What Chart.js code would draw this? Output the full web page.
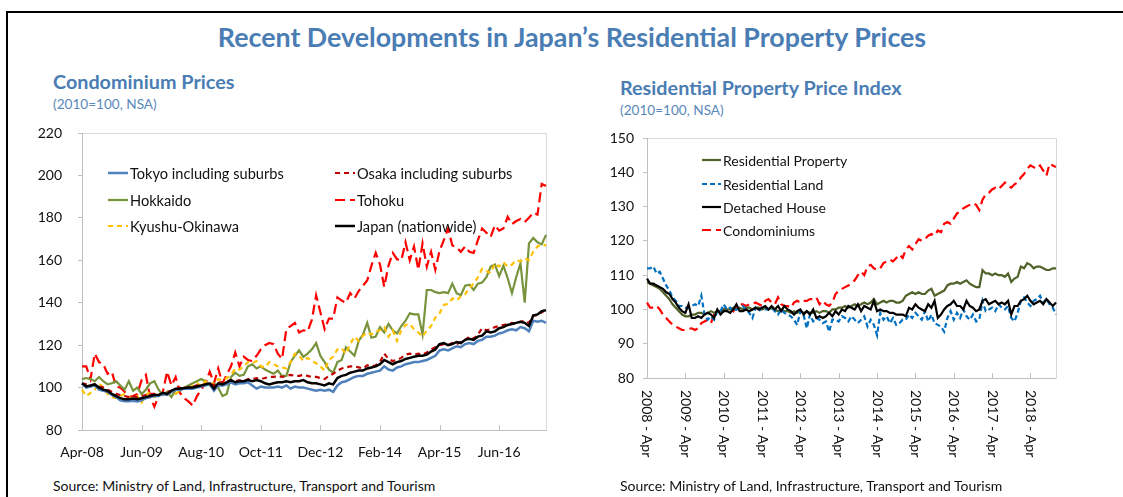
<!DOCTYPE html>
<html>
<head>
<meta charset="utf-8">
<script src="https://cdn.jsdelivr.net/npm/chart.js@4.4.1/dist/chart.umd.min.js"></script>
<style>
  html, body { margin: 0; padding: 0; background: #fff; }
  body { width: 1123px; height: 497px; position: relative; overflow: hidden; font-family: Lato, "Open Sans", sans-serif; }
  .frame { position: absolute; left: 6px; top: 11px; width: 1300px; height: 700px; border-top: 2px solid #000; border-left: 2px solid #000; }
  .txt { position: absolute; white-space: nowrap; }
  .main { left: 0; width: 1144px; text-align: center; top: 24px; font-size: 26.8px; line-height: 27px; font-weight: bold; color: #4a7db3; }
  .sub-title { font-size: 19.8px; line-height: 20px; font-weight: bold; color: #4a7db3; }
  .note { font-size: 13.6px; line-height: 14px; color: #5a88bb; }
  .src { font-size: 14px; line-height: 14px; color: #111; top: 479px; }
  canvas { position: absolute; }
</style>
</head>
<body>
<div class="frame"></div>
<div class="txt main">Recent Developments in Japan’s Residential Property Prices</div>

<div class="txt sub-title" style="left:53px; top:71px;">Condominium Prices</div>
<div class="txt note" style="left:53px; top:97px;">(2010=100, NSA)</div>
<canvas id="condo-chart" width="540" height="361" style="left:20px; top:109px;"></canvas>
<div class="txt src" style="left:53px;">Source: Ministry of Land, Infrastructure, Transport and Tourism</div>

<div class="txt sub-title" style="left:620px; top:77px;">Residential Property Price Index</div>
<div class="txt note" style="left:620px; top:103px;">(2010=100, NSA)</div>
<canvas id="index-chart" width="500" height="359" style="left:580px; top:121px;"></canvas>
<div class="txt src" style="left:620px;">Source: Ministry of Land, Infrastructure, Transport and Tourism</div>

<script>
// ---- Condominium prices, monthly Apr-08 .. May-17 (2010=100)
const condoTicks = ['Apr-08', 'Jun-09', 'Aug-10', 'Oct-11', 'Dec-12', 'Feb-14', 'Apr-15', 'Jun-16'];

const tokyo = [
  102, 100, 100.5, 101, 99, 98.5, 98, 96.5, 95.5,
  94, 93.5, 93.5, 93.8, 93.5, 94, 95, 95.5, 96, 96, 97, 96.5,
  98, 99, 99, 99.5, 99.5, 99.5, 100, 100.5, 101, 101.5, 98.5, 101,
  101, 101.5, 102.5, 101.5, 102, 102, 102.5, 101, 99.5, 100.5, 100, 100,
  100, 100.5, 100, 101, 99.5, 100.5, 100, 100, 99.5, 99, 98.5, 99,
  98.5, 99, 98, 101, 102.5, 103, 104, 105, 105.5, 105.5, 106.5, 107,
  107.5, 108, 110, 108.5, 108, 109.5, 110, 111, 111.5, 112, 112, 112.5,
  113, 114, 115, 117.5, 118, 117.5, 118.5, 119.5, 119, 120.5, 121, 120.5,
  122, 122.5, 124, 124, 124.5, 125.5, 126, 127, 127.5, 127, 128.5, 128,
  126.5, 131.5, 131, 131.5, 130.5
];
const osaka = [
  102, 101.5, 101, 101.5, 100.5, 100, 99, 98, 97,
  96.5, 96, 95.5, 96, 95.5, 96, 96.5, 97, 97, 96.5, 97.5, 98,
  98.5, 99, 100, 99.5, 100, 100.5, 101, 101, 101.5, 102, 101, 102.5,
  102.5, 103, 103.5, 103, 103.5, 103, 104, 104, 104.5, 104, 104.5, 105,
  105, 105.5, 105, 105.5, 106, 105.5, 105.5, 106, 105.5, 105, 105, 104.5,
  104, 105.5, 106.5, 108, 109, 109.5, 110, 110, 109.5, 109, 110.5, 110,
  110.5, 112, 116, 113.5, 112.5, 113, 114, 115.5, 116, 115.5, 116, 115.5,
  116.5, 118, 119, 120, 120.5, 120, 121, 120.5, 121.5, 122.5, 124, 123,
  125, 128, 127, 127.5, 128.5, 129, 129.5, 130, 130.5, 130, 131, 131.5,
  130.5, 134, 134, 135.5, 137
];
const hokkaido = [
  104, 104.5, 104, 103, 105, 103, 101.5, 102, 103,
  101, 99, 103, 98.5, 100, 97, 99, 102, 103, 99, 96.5, 98,
  95.5, 99, 98.5, 100, 101, 102, 103, 104, 103, 101, 102, 100,
  96, 97, 105, 107, 105.5, 106, 110, 111, 109, 110, 108.5, 107.5,
  106.5, 108, 105.5, 105.5, 112, 115, 117.5, 114.5, 116, 118, 121, 115,
  112, 108.5, 107, 112, 113, 119, 117, 115, 122, 125, 130.5, 123.5,
  124, 128.5, 126, 130, 127, 125.5, 129, 131.5, 135, 134.5, 134.5, 125,
  146, 146, 145, 144.5, 145, 144.5, 149, 144.5, 143.5, 148, 148.5, 146,
  149, 149.5, 152, 157, 158, 152.5, 157.5, 151.5, 144.5, 152, 158.5, 140,
  168, 170.5, 168.5, 167.5, 172
];
const tohoku = [
  110, 110, 104, 116, 112, 111, 106.5, 107.5, 100.5,
  100, 98, 95.5, 96, 97, 103.5, 106, 95.5, 91, 96, 98, 107.5,
  101, 105, 97.5, 95, 93.5, 91.5, 96, 99, 102, 107.5, 102, 109,
  102, 106, 110, 116.5, 110, 114.5, 113, 112.5, 115, 118, 120, 121,
  120.5, 116, 113.5, 127.5, 129, 130.5, 126, 127, 126.5, 132, 143.5, 135.5,
  127.5, 132.5, 132.5, 142.5, 141, 140, 144.5, 142, 145.5, 148, 150.5, 157.5,
  163.5, 158, 147.5, 157.5, 163.5, 160.5, 160, 168.5, 160, 166.5, 155.5, 168,
  157, 164, 155.5, 164.5, 169.5, 175, 167, 166, 164, 166.5, 164, 163.5,
  169.5, 175, 173, 171, 176.5, 174, 175, 180.5, 177, 178.5, 179.5, 178,
  180, 182.5, 181.5, 196, 195
];
const kyushu = [
  99, 96, 97.5, 99, 102, 100, 97, 95.5, 95,
  96, 97, 95.5, 94.5, 96, 93, 96.5, 98, 95.5, 96, 97.5, 96.5,
  98, 97, 98.5, 100, 99, 101, 102, 100.5, 103, 101, 102.5, 104,
  103.5, 104.5, 106, 109, 108.5, 110, 112, 111.5, 112.5, 110, 109.5, 112,
  111, 110, 109.5, 109, 112, 116, 115, 112.5, 114, 112.5, 111.5, 110,
  108, 113, 114.5, 118, 118.5, 116, 120.5, 124, 122, 124.5, 126, 125,
  126.5, 127, 128.5, 124, 127, 122, 127, 129.5, 130, 127.5, 126, 124,
  127, 129, 133, 135, 139, 139.5, 142, 141, 143, 144, 147, 149,
  152, 156, 155, 154, 158.5, 157, 159, 157, 158, 160, 159.5, 161,
  160, 164, 166.5, 167.5, 167
];
const japan = [
  102, 100.5, 101, 101.5, 100, 99, 98.5, 97, 96,
  95, 94.5, 94.5, 94.8, 94.5, 95, 95.5, 96, 96.5, 96.5, 97.5, 97,
  98.5, 99.5, 99.5, 99.8, 100, 100, 100.5, 101, 101.5, 102, 99.5, 102,
  101.5, 102.5, 103.5, 102.5, 103, 103, 103.5, 103, 103.5, 103, 102, 101.5,
  102, 102.5, 102.5, 103, 102.5, 103, 103, 103.5, 102.5, 102, 102, 101.5,
  101, 102, 101.5, 104.5, 105.5, 106, 107, 107.5, 108, 108, 109, 109.5,
  110, 111, 113, 112, 111, 112, 112.5, 113.5, 114, 114.5, 115, 115,
  115.5, 117, 118, 120.5, 121, 120, 120.5, 121.5, 121, 122.5, 123, 122.5,
  124, 124.5, 126.5, 126, 126.5, 128, 128.5, 129.5, 130, 130.5, 131, 130.5,
  129, 134, 134.5, 136, 136.5
];

// ---- Residential property price index, monthly 2008-Apr .. 2018-Dec
const indexTicks = ['2008 - Apr', '2009 - Apr', '2010 - Apr', '2011 - Apr', '2012 - Apr', '2013 - Apr',
  '2014 - Apr', '2015 - Apr', '2016 - Apr', '2017 - Apr', '2018 - Apr'];

const resProperty = [
  108, 107.5, 107, 106.5, 106, 105, 104, 103, 101.5,
  100.5, 99.5, 98.5, 98, 98, 98.5, 98.5, 99, 99, 98.5, 99, 99.5,
  99, 99.5, 99.5, 100, 100, 100, 100.5, 100, 100.5, 100, 100.5, 100.5,
  100, 100.5, 100.5, 100, 100.5, 100, 100.5, 100, 99.5, 100, 99.5, 99.5,
  99, 99.5, 99, 99.5, 99, 99.5, 99, 99, 99.5, 99, 99.5, 99.5,
  99, 100, 100, 100.5, 100.5, 101, 100.5, 101, 101.5, 101, 101.5, 102,
  101.5, 102, 103, 101.5, 102, 102.5, 102, 102.5, 102.5, 102, 102, 102.5,
  104, 104.5, 105, 104.5, 105, 104.5, 104.5, 105.5, 106, 104, 104.5, 105,
  105.5, 107, 107.5, 107.5, 108, 107.5, 108, 108.5, 107.5, 107, 106.5, 106.5,
  111.5, 110.5, 110.5, 110, 110.5, 110, 110, 109.5, 110.5, 108, 109, 109.5,
  112.5, 112, 113.5, 113, 112, 112.5, 112.5, 112, 111.5, 111.5, 112, 112
];
const resLand = [
  112, 112, 112.5, 110.5, 111, 109, 107, 105.5, 103.5,
  102.5, 101, 101, 100.5, 100.5, 101, 101.5, 101, 104, 98.5, 97, 98,
  97, 99.5, 99.5, 101.5, 100, 100.5, 99.5, 100, 100.5, 101, 100, 99,
  97.5, 100.5, 99.5, 100.5, 100, 100, 100.5, 99.5, 98.5, 100, 99, 98.5,
  98, 97, 95.5, 99.5, 98.5, 94.5, 98.5, 96.5, 97.5, 97, 96, 96.5,
  93.5, 97, 97, 96.5, 98, 97.5, 96.5, 98, 97, 96, 97, 98,
  95, 97, 95.5, 92.5, 99, 97, 98, 96, 97.5, 95.5, 96, 97,
  97, 98.5, 97.5, 99, 98, 97, 99.5, 96.5, 98.5, 96, 95.5, 95,
  93.5, 97.5, 99.5, 97, 99, 97.5, 100, 98, 97, 98.5, 96.5, 97,
  102.5, 99.5, 100, 100.5, 99.5, 101.5, 100.5, 100, 101, 97.5, 96.5, 99,
  102.5, 103.5, 102, 101, 102.5, 103, 104, 102, 103, 101.5, 100.5, 98.5
];
const detached = [
  109, 107.5, 107.5, 107, 106.5, 106, 105, 104.5, 103,
  102, 100.5, 99.5, 99, 101.5, 97.5, 97.5, 98, 97.5, 98.5, 99, 98.5,
  97.5, 100, 98.5, 99.5, 99.5, 99, 100, 101.5, 99.5, 99.5, 100, 99.5,
  100, 100.5, 100, 100.5, 101, 100, 101, 100, 101, 99.5, 101, 100,
  99.5, 98.5, 99.5, 100, 98.5, 99.5, 98.5, 100, 97.5, 98, 97.5, 98,
  99, 98, 99.5, 98.5, 100, 99.5, 101, 100.5, 100, 101.5, 99.5, 101,
  100.5, 100, 102.5, 99.5, 100, 99.5, 99.5, 99, 99, 98.5, 98.5, 98.5,
  98, 100.5, 100, 101.5, 100.5, 100, 99.5, 101.5, 100.5, 102.5, 97.5, 98.5,
  100, 101, 101.5, 102.5, 101, 101, 100, 102.5, 101, 100.5, 99.5, 100,
  102.5, 103, 101.5, 102, 102.5, 101.5, 102, 101.5, 102.5, 98.5, 101, 101,
  102.5, 103, 104, 102.5, 101.5, 102, 102.5, 101.5, 103, 102, 101, 102
];
const condominiums = [
  102, 100.5, 100.5, 101, 100, 98.5, 97.5, 96.5, 95.5,
  95, 94.5, 94, 94, 94.3, 94.5, 94, 94.5, 96, 96.5, 97, 96,
  98.5, 99, 99.5, 100, 100.5, 100.5, 99.5, 101, 101.5, 101.5, 101, 101.5,
  101.5, 102, 101.5, 101, 102.5, 103, 102, 101.5, 103.5, 101.5, 101, 101,
  100.5, 102, 102.5, 102, 102.5, 102.5, 103, 103, 103.5, 101.5, 102.5, 101.5,
  101, 102, 104.5, 105.5, 106, 106.5, 107, 107.5, 108.5, 110, 111, 110,
  112.5, 113, 112, 111.5, 112, 113.5, 114, 114.5, 114, 115, 116, 115,
  117.5, 118.5, 117.5, 119, 120.5, 120, 120.5, 121.5, 122, 121.5, 123, 122.5,
  125, 125.5, 125, 126.5, 128, 128.5, 129.5, 130, 130.5, 131, 130.5, 129,
  132, 133.5, 134, 135, 135.5, 135, 136, 137, 136, 135.5, 136.5, 137,
  138.5, 139.5, 141, 142, 141.5, 141, 142, 140.5, 139, 142.5, 142, 141.5
];

// month categories
const MON = ['Jan', 'Feb', 'Mar', 'Apr', 'May', 'Jun', 'Jul', 'Aug', 'Sep', 'Oct', 'Nov', 'Dec'];
function monthLabels(n, fmt) {
  const out = [];
  for (let i = 0; i < n; i++) {
    const mi = (3 + i) % 12, yr = 2008 + Math.floor((3 + i) / 12);
    out.push(fmt(MON[mi], yr));
  }
  return out;
}
const condoMonths = monthLabels(tokyo.length, (m, y) => m + '-' + String(y).slice(2));
const indexMonths = monthLabels(resProperty.length, (m, y) => y + ' - ' + m);

const FONT = 'Lato, "Open Sans", sans-serif';

// frame, inner tick marks, legend and (optionally) vertical x labels
const decorPlugin = {
  id: 'decor',
  beforeDatasetsDraw(chart, args, opts) {
    const { ctx, chartArea: a } = chart;
    const xs = chart.scales.x;
    ctx.save();
    ctx.lineWidth = 1;
    ctx.strokeStyle = '#d9d9d9';
    ctx.strokeRect(Math.round(a.left) + 0.5, Math.round(a.top) + 0.5, Math.round(a.right - a.left), Math.round(a.bottom - a.top));
    ctx.strokeStyle = '#bfbfbf';
    ctx.beginPath();
    ctx.moveTo(Math.round(a.left) + 0.5, a.top);
    ctx.lineTo(Math.round(a.left) + 0.5, Math.round(a.bottom) + 0.5);
    ctx.lineTo(a.right, Math.round(a.bottom) + 0.5);
    chart.data.labels.forEach((lab, i) => {
      if (opts.ticks.includes(lab)) {
        const px = Math.round(xs.getPixelForValue(i)) + 0.5;
        ctx.moveTo(px, a.bottom);
        ctx.lineTo(px, a.bottom - 5);
      }
    });
    ctx.stroke();
    ctx.restore();
  },
  afterDraw(chart, args, opts) {
    const { ctx, chartArea: a } = chart;
    ctx.save();
    ctx.font = opts.fontSize + 'px ' + FONT;
    ctx.textBaseline = 'middle';
    ctx.textAlign = 'left';
    chart.data.datasets.forEach((ds, i) => {
      const x = a.left + opts.cols[i % opts.cols.length];
      const y = a.top + opts.rows[Math.floor(i / opts.cols.length)];
      ctx.strokeStyle = ds.borderColor;
      ctx.lineWidth = ds.borderWidth;
      ctx.setLineDash(ds.borderDash || []);
      ctx.beginPath();
      ctx.moveTo(x, y);
      ctx.lineTo(x + opts.sample, y);
      ctx.stroke();
      ctx.setLineDash([]);
      ctx.fillStyle = '#111';
      ctx.fillText(ds.label, x + opts.sample + 2, y + 1);
    });
    if (opts.vertical) {
      const xs = chart.scales.x;
      ctx.font = '14px ' + FONT;
      ctx.fillStyle = '#111';
      chart.data.labels.forEach((lab, i) => {
        if (!opts.ticks.includes(lab)) return;
        ctx.save();
        ctx.translate(xs.getPixelForValue(i), a.bottom + 12);
        ctx.rotate(Math.PI / 2);
        ctx.fillText(lab, 0, 0);
        ctx.restore();
      });
    }
    ctx.restore();
  }
};

function line(label, data, color, width, dash, order) {
  return { label, data, borderColor: color, backgroundColor: color, borderWidth: width,
    borderDash: dash, pointRadius: 0, tension: 0, fill: false, order };
}

// lineHeight 16px -> top label overhang of 8px + tick padding
const tickFont = { family: FONT, size: 14, lineHeight: '16px' };

new Chart(document.getElementById('condo-chart'), {
  type: 'line',
  data: {
    labels: condoMonths,
    datasets: [
      line('Tokyo including suburbs', tokyo, '#4f81bd', 2.5, [], 1),
      line('Osaka including suburbs', osaka, '#c00000', 2.2, [5, 4], 2),
      line('Hokkaido', hokkaido, '#77933c', 2.2, [], 4),
      line('Tohoku', tohoku, '#ff0000', 2.2, [10, 5], 5),
      line('Kyushu-Okinawa', kyushu, '#ffc000', 2.2, [5, 4], 3),
      line('Japan (nationwide)', japan, '#000000', 2.5, [], 0)
    ]
  },
  options: {
    responsive: false,
    animation: false,
    devicePixelRatio: 1,
    layout: { padding: { top: 0, right: 13, bottom: 0, left: 0 } },
    plugins: {
      legend: { display: false },
      tooltip: { enabled: false },
      decor: { ticks: condoTicks, cols: [26, 253], rows: [40, 67, 93], sample: 20, fontSize: 14.6 }
    },
    scales: {
      x: {
        grid: { display: false, drawTicks: false },
        border: { display: false },
        afterFit: s => { s.height = 40; },
        ticks: {
          autoSkip: false, maxRotation: 0, minRotation: 0, padding: 14,
          color: '#111', font: tickFont,
          callback: function(v) {
            const lab = this.getLabelForValue(v);
            return condoTicks.includes(lab) ? lab : '';
          }
        }
      },
      y: {
        min: 80, max: 220,
        afterFit: s => { s.width = 62; },
        grid: { drawOnChartArea: false, drawTicks: true, tickLength: 4, color: '#bfbfbf' },
        border: { display: false },
        ticks: { stepSize: 20, padding: 16, color: '#111', font: tickFont }
      }
    }
  },
  plugins: [decorPlugin]
});

new Chart(document.getElementById('index-chart'), {
  type: 'line',
  data: {
    labels: indexMonths,
    datasets: [
      line('Residential Property', resProperty, '#4f6228', 2.2, [], 2),
      line('Residential Land', resLand, '#0070c0', 2.2, [5, 3], 1),
      line('Detached House', detached, '#000000', 2.2, [], 0),
      line('Condominiums', condominiums, '#ff0000', 2.2, [9, 5], 3)
    ]
  },
  options: {
    responsive: false,
    animation: false,
    devicePixelRatio: 1,
    layout: { padding: { top: 0, right: 24, bottom: 102, left: 0 } },
    plugins: {
      legend: { display: false },
      tooltip: { enabled: false },
      decor: { ticks: indexTicks, cols: [55], rows: [22, 46, 69, 92], sample: 19, fontSize: 14, vertical: true }
    },
    scales: {
      x: { display: false },
      y: {
        min: 80, max: 150,
        afterFit: s => { s.width = 67; },
        grid: { drawOnChartArea: false, drawTicks: true, tickLength: 4, color: '#bfbfbf' },
        border: { display: false },
        ticks: { stepSize: 10, padding: 9, color: '#111', font: tickFont }
      }
    }
  },
  plugins: [decorPlugin]
});
</script>
</body>
</html>
